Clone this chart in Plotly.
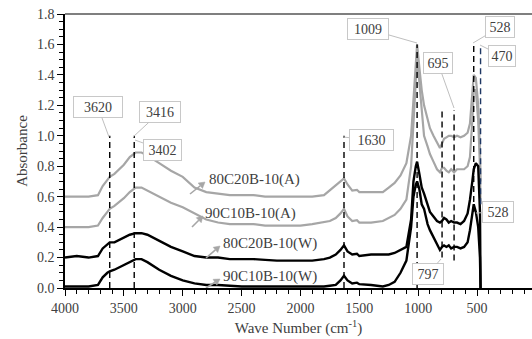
import math
import plotly.graph_objects as go

# ---------------- data ----------------
WAVENUMBER = [4000, 3900, 3800, 3720, 3680, 3640, 3620, 3580, 3500, 3450, 3400, 3350,
              3300, 3200, 3100, 3000, 2900, 2800, 2700, 2600, 2500, 2400, 2300, 2200,
              2100, 2000, 1900, 1800, 1750, 1700, 1660, 1630, 1600, 1560, 1520, 1500,
              1400, 1300, 1250, 1200, 1150, 1100, 1060, 1040, 1020, 1009, 990, 970,
              950, 920, 900, 870, 840, 815, 797, 780, 760, 740, 720, 695, 670, 640,
              610, 580, 560, 540, 528, 510, 490, 475, 470]

ABS_90C10B_W = [0.01, 0.01, 0.01, 0.02, 0.07, 0.10, 0.11, 0.12, 0.15, 0.17, 0.19, 0.19,
                0.17, 0.12, 0.08, 0.05, 0.03, 0.02, 0.02, 0.015, 0.01, 0.01, 0.01, 0.01,
                0.01, 0.01, 0.01, 0.01, 0.015, 0.02, 0.05, 0.08, 0.05, 0.03, 0.035, 0.025,
                0.02, 0.01, 0.02, 0.04, 0.10, 0.18, 0.40, 0.60, 0.68, 0.70, 0.65, 0.55,
                0.52, 0.42, 0.38, 0.33, 0.29, 0.25, 0.27, 0.28, 0.27, 0.28, 0.26, 0.27, 0.27, 0.26,
                0.27, 0.30, 0.38, 0.48, 0.55, 0.50, 0.40, 0.20, 0.0]

ABS_80C20B_W = [0.20, 0.21, 0.20, 0.21, 0.26, 0.29, 0.30, 0.30, 0.33, 0.35, 0.36, 0.36,
                0.35, 0.31, 0.27, 0.24, 0.21, 0.20, 0.20, 0.19, 0.19, 0.19, 0.185, 0.18,
                0.18, 0.18, 0.18, 0.19, 0.20, 0.22, 0.25, 0.28, 0.24, 0.22, 0.225, 0.21,
                0.22, 0.22, 0.22, 0.23, 0.25, 0.27, 0.45, 0.70, 0.80, 0.83, 0.75, 0.66,
                0.62, 0.55, 0.50, 0.47, 0.44, 0.43, 0.44, 0.46, 0.45, 0.43, 0.44, 0.43, 0.43, 0.42,
                0.44, 0.49, 0.58, 0.70, 0.78, 0.82, 0.80, 0.50, 0.0]

ABS_90C10B_A = [0.40, 0.40, 0.40, 0.41, 0.46, 0.50, 0.52, 0.54, 0.59, 0.63, 0.66, 0.66,
                0.64, 0.60, 0.56, 0.53, 0.49, 0.45, 0.43, 0.42, 0.42, 0.42, 0.41, 0.41,
                0.41, 0.41, 0.42, 0.43, 0.44, 0.46, 0.49, 0.52, 0.47, 0.44, 0.445, 0.43,
                0.43, 0.44, 0.46, 0.48, 0.52, 0.58, 0.80, 1.10, 1.40, 1.52, 1.35, 1.15,
                1.00, 0.93, 0.88, 0.83, 0.78, 0.76, 0.79, 0.79, 0.77, 0.76, 0.78, 0.76, 0.78, 0.78,
                0.78, 0.80, 0.86, 1.10, 1.30, 1.30, 1.10, 0.80, 0.55]

ABS_80C20B_A = [0.60, 0.60, 0.60, 0.61, 0.67, 0.71, 0.73, 0.75, 0.81, 0.86, 0.89, 0.89,
                0.87, 0.82, 0.77, 0.73, 0.66, 0.63, 0.62, 0.61, 0.61, 0.61, 0.60, 0.60,
                0.60, 0.60, 0.60, 0.61, 0.64, 0.67, 0.70, 0.72, 0.68, 0.64, 0.645, 0.63,
                0.63, 0.63, 0.66, 0.69, 0.74, 0.82, 1.00, 1.25, 1.50, 1.60, 1.45, 1.30,
                1.20, 1.10, 1.05, 1.00, 0.95, 0.92, 0.95, 0.98, 0.99, 1.00, 1.00, 0.99, 1.00, 0.99,
                1.00, 1.02, 1.08, 1.25, 1.40, 1.38, 1.20, 0.90, 0.70]

SERIES = [
    ("80C20B-10(A)", ABS_80C20B_A, "#a6a6a6", 2.2),
    ("90C10B-10(A)", ABS_90C10B_A, "#a6a6a6", 2.2),
    ("80C20B-10(W)", ABS_80C20B_W, "#000000", 2.4),
    ("90C10B-10(W)", ABS_90C10B_W, "#000000", 2.4),
]

# marked peak lines: (wavenumber, y_from, y_to, colour)
PEAK_LINES = [
    (3620, 0.0, 1.0, "black"),
    (3412, 0.0, 1.0, "black"),
    (1630, 0.0, 1.0, "black"),
    (1009, 0.0, 1.6, "black"),
    (797, 0.2, 1.17, "black"),
    (695, 0.18, 1.17, "black"),
    (528, 0.5, 1.6, "black"),
    (470, 0.55, 1.6, "#1f3864"),
]

# ---------------- layout geometry ----------------
W, H = 532, 339
ML, MR, MT, MB = 65, 0, 14, 51
X0, X1 = 4000, 33
Y0, Y1 = 0.0, 1.8
PW, PH = W - ML - MR, H - MT - MB


def dx(px):
    return X0 + (px - ML) / PW * (X1 - X0)


def dy(py):
    return Y1 - (py - MT) / PH * (Y1 - Y0)


FONT = "Liberation Serif"
TXT = "#404040"

fig = go.Figure()
for name, vals, col, lw in SERIES:
    fig.add_trace(go.Scatter(x=WAVENUMBER, y=vals, mode="lines", name=name,
                             line=dict(color=col, width=lw), showlegend=False))

shapes = []
for wn, ya, yb, col in PEAK_LINES:
    shapes.append(dict(type="line", xref="x", yref="y", x0=wn, x1=wn, y0=ya, y1=yb,
                       line=dict(color=col, width=1.4, dash="6px,4px")))
# top frame line
shapes.append(dict(type="line", xref="paper", yref="paper", x0=0, x1=1, y0=1, y1=1,
                   line=dict(color="#7f7f7f", width=2)))

annotations = []
# callouts: text, tip px, box-centre px, box width
CALLOUTS = [
    ("3620", (109, 137), (98, 107), 44),
    ("3416", (133, 137), (160, 112), 36),
    ("3402", (135, 140), (162, 150), 33),
    ("1630", (343, 137), (371, 140), 39),
    ("1009", (417, 43), (368, 29), 36),
    ("695", (454, 108), (438, 63), 24),
    ("528", (473, 43), (500, 27), 24),
    ("470", (480, 45), (502, 56), 22),
    ("528", (476, 213), (498, 212), 26),
    ("797", (441, 259), (428, 274), 26),
]
for txt, tip, box, bw in CALLOUTS:
    annotations.append(dict(
        x=dx(tip[0]), y=dy(tip[1]), xref="x", yref="y", text=txt,
        showarrow=True, arrowhead=0, arrowwidth=1, arrowcolor="#bfbfbf",
        ax=box[0] - tip[0], ay=box[1] - tip[1], width=bw, height=16,
        bgcolor="white", bordercolor="#c8c8c8", borderwidth=1, borderpad=2,
        font=dict(family=FONT, size=14, color=TXT)))

# series labels with gray arrows (text pos, arrow tail, arrow head) in pixels
LABELS = [
    ("80C20B-10(A)", (207, 179), (190, 194), (205, 182)),
    ("90C10B-10(A)", (203, 213), (192, 227), (203, 216)),
    ("80C20B-10(W)", (221, 243), (206, 258), (220, 246)),
    ("90C10B-10(W)", (221, 276), (206, 288), (220, 279)),
]
ARROW_COL = "#a6a6a6"
for txt, pos, tail, head in LABELS:
    annotations.append(dict(x=dx(pos[0]), y=dy(pos[1]), xref="x", yref="y", text=txt,
                            showarrow=False, xanchor="left", yanchor="middle",
                            font=dict(family=FONT, size=15, color=TXT)))
    vx, vy = head[0] - tail[0], head[1] - tail[1]
    ln = math.hypot(vx, vy)
    ux, uy = vx / ln, vy / ln
    nx, ny = -uy, ux
    hl, hw = 6.0, 3.5
    bx, by = head[0] - ux * hl, head[1] - uy * hl
    shapes.append(dict(type="line", xref="x", yref="y",
                       x0=dx(tail[0]), y0=dy(tail[1]), x1=dx(bx), y1=dy(by),
                       line=dict(color=ARROW_COL, width=1.6)))
    p1 = (dx(head[0]), dy(head[1]))
    p2 = (dx(bx + nx * hw), dy(by + ny * hw))
    p3 = (dx(bx - nx * hw), dy(by - ny * hw))
    shapes.append(dict(type="path", xref="x", yref="y",
                       path=f"M {p1[0]},{p1[1]} L {p2[0]},{p2[1]} L {p3[0]},{p3[1]} Z",
                       fillcolor=ARROW_COL, line=dict(color=ARROW_COL, width=0.5)))

fig.update_layout(
    width=W, height=H, margin=dict(l=ML, r=MR, t=MT, b=MB),
    paper_bgcolor="white", plot_bgcolor="white",
    font=dict(family=FONT),
    shapes=shapes, annotations=annotations,
    xaxis=dict(range=[X0, X1], dtick=500, tick0=0, showgrid=False, zeroline=False,
               showline=True, linecolor="black", linewidth=1.5,
               ticks="outside", ticklen=6, tickcolor="black", tickwidth=1,
               minor=dict(dtick=100, ticks="outside", ticklen=4, tickcolor="black", tickwidth=1),
               tickfont=dict(family=FONT, size=14, color=TXT),
               title=dict(text="Wave Number (cm<sup>-1</sup>)", standoff=8,
                          font=dict(family=FONT, size=15, color=TXT))),
    yaxis=dict(range=[Y0, Y1], dtick=0.2, tickformat=".1f", showgrid=False, zeroline=False,
               showline=True, linecolor="black", linewidth=1.5,
               ticks="outside", ticklen=6, tickcolor="black", tickwidth=1,
               minor=dict(dtick=0.05, ticks="outside", ticklen=4, tickcolor="black", tickwidth=1),
               tickfont=dict(family=FONT, size=14, color=TXT),
               title=dict(text="Absorbance", standoff=6,
                          font=dict(family=FONT, size=15, color=TXT))),
)

fig.write_html("out.html")
